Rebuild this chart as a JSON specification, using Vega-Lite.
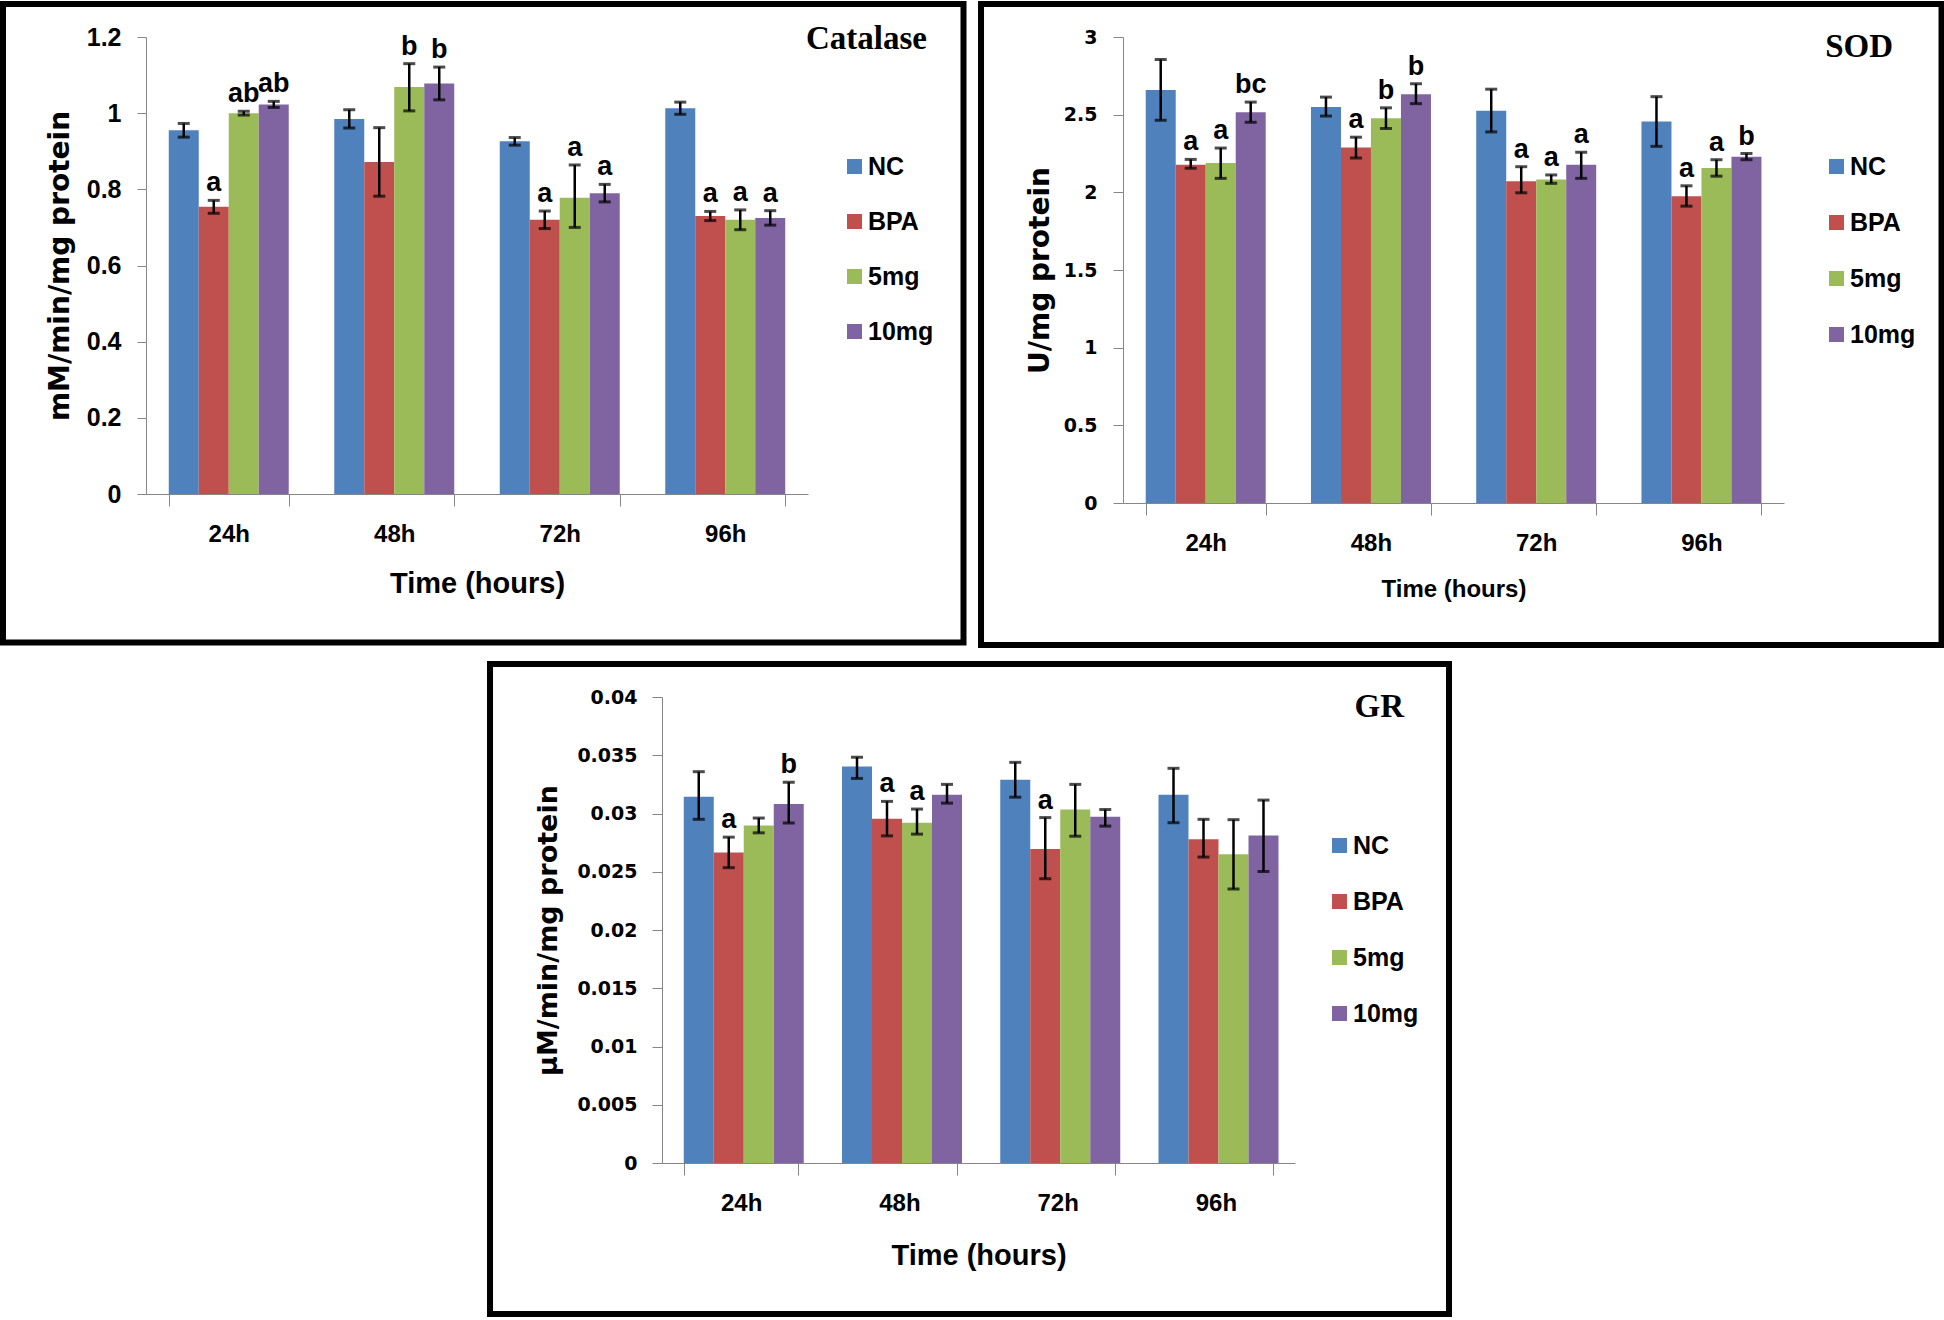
{
  "$schema": "https://vega.github.io/schema/vega-lite/v6.json",
  "padding": {"left": 0, "top": 1, "right": 0, "bottom": 0},
  "background": "white",
  "datasets": {
    "catalase": [
      {"time": "24h", "group": "NC", "value": 0.955, "lo": 0.937, "hi": 0.973, "sig": ""},
      {"time": "24h", "group": "BPA", "value": 0.754, "lo": 0.737, "hi": 0.771, "sig": "a"},
      {"time": "24h", "group": "5mg", "value": 1.0, "lo": 0.995, "hi": 1.005, "sig": "ab"},
      {"time": "24h", "group": "10mg", "value": 1.023, "lo": 1.015, "hi": 1.031, "sig": "ab"},
      {"time": "48h", "group": "NC", "value": 0.985, "lo": 0.961, "hi": 1.009, "sig": ""},
      {"time": "48h", "group": "BPA", "value": 0.872, "lo": 0.782, "hi": 0.962, "sig": ""},
      {"time": "48h", "group": "5mg", "value": 1.069, "lo": 1.006, "hi": 1.13, "sig": "b"},
      {"time": "48h", "group": "10mg", "value": 1.078, "lo": 1.035, "hi": 1.121, "sig": "b"},
      {"time": "72h", "group": "NC", "value": 0.926, "lo": 0.916, "hi": 0.936, "sig": ""},
      {"time": "72h", "group": "BPA", "value": 0.72, "lo": 0.697, "hi": 0.743, "sig": "a"},
      {"time": "72h", "group": "5mg", "value": 0.778, "lo": 0.7, "hi": 0.864, "sig": "a"},
      {"time": "72h", "group": "10mg", "value": 0.79, "lo": 0.767, "hi": 0.813, "sig": "a"},
      {"time": "96h", "group": "NC", "value": 1.013, "lo": 0.997, "hi": 1.029, "sig": ""},
      {"time": "96h", "group": "BPA", "value": 0.73, "lo": 0.718, "hi": 0.742, "sig": "a"},
      {"time": "96h", "group": "5mg", "value": 0.72, "lo": 0.694, "hi": 0.746, "sig": "a"},
      {"time": "96h", "group": "10mg", "value": 0.725, "lo": 0.706, "hi": 0.744, "sig": "a"}
    ],
    "sod": [
      {"time": "24h", "group": "NC", "value": 2.659, "lo": 2.464, "hi": 2.855, "sig": ""},
      {"time": "24h", "group": "BPA", "value": 2.178, "lo": 2.155, "hi": 2.212, "sig": "a"},
      {"time": "24h", "group": "5mg", "value": 2.189, "lo": 2.09, "hi": 2.285, "sig": "a"},
      {"time": "24h", "group": "10mg", "value": 2.515, "lo": 2.451, "hi": 2.581, "sig": "bc"},
      {"time": "48h", "group": "NC", "value": 2.549, "lo": 2.491, "hi": 2.613, "sig": ""},
      {"time": "48h", "group": "BPA", "value": 2.288, "lo": 2.221, "hi": 2.355, "sig": "a"},
      {"time": "48h", "group": "5mg", "value": 2.477, "lo": 2.411, "hi": 2.544, "sig": "b"},
      {"time": "48h", "group": "10mg", "value": 2.632, "lo": 2.571, "hi": 2.699, "sig": "b"},
      {"time": "72h", "group": "NC", "value": 2.525, "lo": 2.389, "hi": 2.664, "sig": ""},
      {"time": "72h", "group": "BPA", "value": 2.071, "lo": 1.997, "hi": 2.165, "sig": "a"},
      {"time": "72h", "group": "5mg", "value": 2.082, "lo": 2.058, "hi": 2.112, "sig": "a"},
      {"time": "72h", "group": "10mg", "value": 2.178, "lo": 2.09, "hi": 2.258, "sig": "a"},
      {"time": "96h", "group": "NC", "value": 2.456, "lo": 2.296, "hi": 2.616, "sig": ""},
      {"time": "96h", "group": "BPA", "value": 1.975, "lo": 1.911, "hi": 2.042, "sig": "a"},
      {"time": "96h", "group": "5mg", "value": 2.157, "lo": 2.104, "hi": 2.21, "sig": "a"},
      {"time": "96h", "group": "10mg", "value": 2.229, "lo": 2.21, "hi": 2.25, "sig": "b"}
    ],
    "gr": [
      {"time": "24h", "group": "NC", "value": 0.03144, "lo": 0.0295, "hi": 0.03359, "sig": ""},
      {"time": "24h", "group": "BPA", "value": 0.02666, "lo": 0.02535, "hi": 0.02797, "sig": "a"},
      {"time": "24h", "group": "5mg", "value": 0.02896, "lo": 0.02834, "hi": 0.02961, "sig": ""},
      {"time": "24h", "group": "10mg", "value": 0.03082, "lo": 0.02918, "hi": 0.03268, "sig": "b"},
      {"time": "48h", "group": "NC", "value": 0.03403, "lo": 0.03301, "hi": 0.03483, "sig": ""},
      {"time": "48h", "group": "BPA", "value": 0.02954, "lo": 0.02808, "hi": 0.03104, "sig": "a"},
      {"time": "48h", "group": "5mg", "value": 0.02921, "lo": 0.02823, "hi": 0.03038, "sig": "a"},
      {"time": "48h", "group": "10mg", "value": 0.03162, "lo": 0.03089, "hi": 0.0325, "sig": ""},
      {"time": "72h", "group": "NC", "value": 0.0329, "lo": 0.0314, "hi": 0.03439, "sig": ""},
      {"time": "72h", "group": "BPA", "value": 0.02695, "lo": 0.0244, "hi": 0.02965, "sig": "a"},
      {"time": "72h", "group": "5mg", "value": 0.03034, "lo": 0.02805, "hi": 0.0325, "sig": ""},
      {"time": "72h", "group": "10mg", "value": 0.02972, "lo": 0.02892, "hi": 0.03034, "sig": ""},
      {"time": "96h", "group": "NC", "value": 0.03162, "lo": 0.02921, "hi": 0.03388, "sig": ""},
      {"time": "96h", "group": "BPA", "value": 0.02779, "lo": 0.02626, "hi": 0.0295, "sig": ""},
      {"time": "96h", "group": "5mg", "value": 0.02651, "lo": 0.02352, "hi": 0.02947, "sig": ""},
      {"time": "96h", "group": "10mg", "value": 0.02812, "lo": 0.02502, "hi": 0.03115, "sig": ""}
    ]
  },
  "vconcat": [
    {
      "hconcat": [
        {
          "width": 662,
          "height": 457,
          "resolve": {"scale": {"x": "independent", "y": "independent"}},
          "layer": [
            {
              "data": {"name": "catalase"},
              "encoding": {
                "x": {"field": "time", "type": "nominal", "sort": ["24h", "48h", "72h", "96h"],
                  "scale": {"paddingInner": 0.275, "paddingOuter": 0.1375},
                  "axis": {"title": "Time (hours)", "labelAngle": 0, "tickBand": "extent", "domainColor": "#868686", "tickColor": "#868686", "tickSize": 12, "labelPadding": 16, "labelFont": "Liberation Sans", "labelFontWeight": "bold", "labelFontSize": 24, "labelColor": "black", "titleFont": "Liberation Sans", "titleFontWeight": "bold", "titleFontSize": 29, "titleColor": "black", "titlePadding": 23}},
                "xOffset": {"field": "group", "type": "nominal", "sort": ["NC", "BPA", "5mg", "10mg"], "scale": {"paddingInner": 0, "paddingOuter": 0}}
              },
              "layer": [
                {
                  "mark": {"type": "bar"},
                  "encoding": {
                    "y": {"field": "value", "type": "quantitative", "scale": {"domain": [0, 1.2], "nice": false},
                      "axis": {"title": "mM/min/mg protein", "values": [0, 0.2, 0.4, 0.6, 0.8, 1, 1.2], "format": "~g", "grid": false, "domainColor": "#868686", "tickColor": "#868686", "tickSize": 9, "labelPadding": 16, "labelFont": "Liberation Sans", "labelFontWeight": "bold", "labelFontSize": 25, "labelColor": "black", "titleFont": "DejaVu Sans", "titleFontWeight": "bold", "titleFontSize": 28, "titleColor": "black", "titlePadding": 12}},
                    "color": {"field": "group", "type": "nominal", "sort": ["NC", "BPA", "5mg", "10mg"],
                      "scale": {"domain": ["NC", "BPA", "5mg", "10mg"], "range": ["#4F81BD", "#C0504D", "#9BBB59", "#8064A2"]},
                      "legend": {"orient": "none", "legendX": 696, "legendY": 117, "title": null, "symbolType": "square", "symbolSize": 225, "symbolStrokeWidth": 0, "labelFont": "Liberation Sans", "labelFontWeight": "bold", "labelFontSize": 25, "labelColor": "black", "rowPadding": 29, "padding": 0, "labelOffset": 1}}
                  }
                },
                {"mark": {"type": "rule", "color": "black", "strokeWidth": 2.5}, "encoding": {"y": {"field": "lo", "type": "quantitative"}, "y2": {"field": "hi"}}},
                {"mark": {"type": "tick", "color": "black", "thickness": 3, "size": 12}, "encoding": {"y": {"field": "lo", "type": "quantitative"}}},
                {"mark": {"type": "tick", "color": "black", "thickness": 3, "size": 12}, "encoding": {"y": {"field": "hi", "type": "quantitative"}}},
                {"mark": {"type": "text", "font": "Liberation Sans", "fontWeight": "bold", "fontSize": 27, "baseline": "bottom", "dy": -3, "color": "black"}, "encoding": {"y": {"field": "hi", "type": "quantitative"}, "text": {"field": "sig"}}}
              ]
            },
            {
              "data": {"values": [{"panel": "Catalase"}]},
              "layer": [
                {"mark": {"type": "rect", "fill": "transparent", "stroke": "black", "strokeWidth": 6},
                  "encoding": {
                    "x": {"datum": -0.216, "type": "quantitative", "scale": {"domain": [0, 1], "nice": false, "zero": false}, "axis": null},
                    "x2": {"datum": 1.2349},
                    "y": {"datum": -0.3249, "type": "quantitative", "scale": {"domain": [0, 1], "nice": false, "zero": false}, "axis": null},
                    "y2": {"datum": 1.0722}
                  }},
                {"mark": {"type": "text", "font": "Liberation Serif", "fontWeight": "bold", "fontSize": 33, "align": "right", "baseline": "middle", "color": "black"},
                  "encoding": {
                    "x": {"datum": 1.1798, "type": "quantitative"},
                    "y": {"datum": 0.9956, "type": "quantitative"},
                    "text": {"field": "panel"}
                  }}
              ]
            }
          ]
        },
        {
          "width": 661,
          "height": 466,
          "resolve": {"scale": {"x": "independent", "y": "independent"}},
          "layer": [
            {
              "data": {"name": "sod"},
              "encoding": {
                "x": {"field": "time", "type": "nominal", "sort": ["24h", "48h", "72h", "96h"],
                  "scale": {"paddingInner": 0.275, "paddingOuter": 0.1375},
                  "axis": {"title": "Time (hours)", "labelAngle": 0, "tickBand": "extent", "domainColor": "#868686", "tickColor": "#868686", "tickSize": 12, "labelPadding": 16, "labelFont": "Liberation Sans", "labelFontWeight": "bold", "labelFontSize": 24, "labelColor": "black", "titleFont": "Liberation Sans", "titleFontWeight": "bold", "titleFontSize": 24, "titleColor": "black", "titlePadding": 22}},
                "xOffset": {"field": "group", "type": "nominal", "sort": ["NC", "BPA", "5mg", "10mg"], "scale": {"paddingInner": 0, "paddingOuter": 0}}
              },
              "layer": [
                {
                  "mark": {"type": "bar"},
                  "encoding": {
                    "y": {"field": "value", "type": "quantitative", "scale": {"domain": [0, 3], "nice": false},
                      "axis": {"title": "U/mg protein", "values": [0, 0.5, 1, 1.5, 2, 2.5, 3], "format": "~g", "grid": false, "domainColor": "#868686", "tickColor": "#868686", "tickSize": 10, "labelPadding": 16, "labelFont": "DejaVu Sans", "labelFontWeight": "bold", "labelFontSize": 19, "labelColor": "black", "titleFont": "DejaVu Sans", "titleFontWeight": "bold", "titleFontSize": 28, "titleColor": "black", "titlePadding": 9}},
                    "color": {"field": "group", "type": "nominal", "sort": ["NC", "BPA", "5mg", "10mg"],
                      "scale": {"domain": ["NC", "BPA", "5mg", "10mg"], "range": ["#4F81BD", "#C0504D", "#9BBB59", "#8064A2"]},
                      "legend": {"orient": "none", "legendX": 701, "legendY": 117, "title": null, "symbolType": "square", "symbolSize": 225, "symbolStrokeWidth": 0, "labelFont": "Liberation Sans", "labelFontWeight": "bold", "labelFontSize": 25, "labelColor": "black", "rowPadding": 30, "padding": 0, "labelOffset": 1}}
                  }
                },
                {"mark": {"type": "rule", "color": "black", "strokeWidth": 2.5}, "encoding": {"y": {"field": "lo", "type": "quantitative"}, "y2": {"field": "hi"}}},
                {"mark": {"type": "tick", "color": "black", "thickness": 3, "size": 12}, "encoding": {"y": {"field": "lo", "type": "quantitative"}}},
                {"mark": {"type": "tick", "color": "black", "thickness": 3, "size": 12}, "encoding": {"y": {"field": "hi", "type": "quantitative"}}},
                {"mark": {"type": "text", "font": "Liberation Sans", "fontWeight": "bold", "fontSize": 27, "baseline": "bottom", "dy": -3, "color": "black"}, "encoding": {"y": {"field": "hi", "type": "quantitative"}, "text": {"field": "sig"}}}
              ]
            },
            {
              "data": {"values": [{"panel": "SOD"}]},
              "layer": [
                {"mark": {"type": "rect", "fill": "transparent", "stroke": "black", "strokeWidth": 6},
                  "encoding": {
                    "x": {"datum": -0.2148, "type": "quantitative", "scale": {"domain": [0, 1], "nice": false, "zero": false}, "axis": null},
                    "x2": {"datum": 1.2383},
                    "y": {"datum": -0.3047, "type": "quantitative", "scale": {"domain": [0, 1], "nice": false, "zero": false}, "axis": null},
                    "y2": {"datum": 1.0708}
                  }},
                {"mark": {"type": "text", "font": "Liberation Serif", "fontWeight": "bold", "fontSize": 33, "align": "right", "baseline": "middle", "color": "black"},
                  "encoding": {
                    "x": {"datum": 1.1649, "type": "quantitative"},
                    "y": {"datum": 0.9785, "type": "quantitative"},
                    "text": {"field": "panel"}
                  }}
              ]
            }
          ]
        }
      ],
      "spacing": 11,
      "resolve": {"scale": {"color": "independent"}, "legend": {"color": "independent"}}
    },
    {
      "hconcat": [
        {
          "width": 330,
          "height": 20,
          "data": {"values": []},
          "mark": {"type": "point", "opacity": 0},
          "encoding": {}
        },
        {
          "width": 633,
          "height": 466,
          "resolve": {"scale": {"x": "independent", "y": "independent"}},
          "layer": [
            {
              "data": {"name": "gr"},
              "encoding": {
                "x": {"field": "time", "type": "nominal", "sort": ["24h", "48h", "72h", "96h"],
                  "scale": {"paddingInner": 0.275, "paddingOuter": 0.1375},
                  "axis": {"title": "Time (hours)", "labelAngle": 0, "tickBand": "extent", "domainColor": "#868686", "tickColor": "#868686", "tickSize": 12, "labelPadding": 16, "labelFont": "Liberation Sans", "labelFontWeight": "bold", "labelFontSize": 24, "labelColor": "black", "titleFont": "Liberation Sans", "titleFontWeight": "bold", "titleFontSize": 29, "titleColor": "black", "titlePadding": 26}},
                "xOffset": {"field": "group", "type": "nominal", "sort": ["NC", "BPA", "5mg", "10mg"], "scale": {"paddingInner": 0, "paddingOuter": 0}}
              },
              "layer": [
                {
                  "mark": {"type": "bar"},
                  "encoding": {
                    "y": {"field": "value", "type": "quantitative", "scale": {"domain": [0, 0.04], "nice": false},
                      "axis": {"title": "μM/min/mg protein", "values": [0, 0.005, 0.01, 0.015, 0.02, 0.025, 0.03, 0.035, 0.04], "format": "~g", "grid": false, "domainColor": "#868686", "tickColor": "#868686", "tickSize": 10, "labelPadding": 15, "labelFont": "DejaVu Sans", "labelFontWeight": "bold", "labelFontSize": 19, "labelColor": "black", "titleFont": "DejaVu Sans", "titleFontWeight": "bold", "titleFontSize": 27, "titleColor": "black", "titlePadding": 14}},
                    "color": {"field": "group", "type": "nominal", "sort": ["NC", "BPA", "5mg", "10mg"],
                      "scale": {"domain": ["NC", "BPA", "5mg", "10mg"], "range": ["#4F81BD", "#C0504D", "#9BBB59", "#8064A2"]},
                      "legend": {"orient": "none", "legendX": 665, "legendY": 136, "title": null, "symbolType": "square", "symbolSize": 225, "symbolStrokeWidth": 0, "labelFont": "Liberation Sans", "labelFontWeight": "bold", "labelFontSize": 25, "labelColor": "black", "rowPadding": 30, "padding": 0, "labelOffset": 1}}
                  }
                },
                {"mark": {"type": "rule", "color": "black", "strokeWidth": 2.5}, "encoding": {"y": {"field": "lo", "type": "quantitative"}, "y2": {"field": "hi"}}},
                {"mark": {"type": "tick", "color": "black", "thickness": 3, "size": 12}, "encoding": {"y": {"field": "lo", "type": "quantitative"}}},
                {"mark": {"type": "tick", "color": "black", "thickness": 3, "size": 12}, "encoding": {"y": {"field": "hi", "type": "quantitative"}}},
                {"mark": {"type": "text", "font": "Liberation Sans", "fontWeight": "bold", "fontSize": 27, "baseline": "bottom", "dy": -3, "color": "black"}, "encoding": {"y": {"field": "hi", "type": "quantitative"}, "text": {"field": "sig"}}}
              ]
            },
            {
              "data": {"values": [{"panel": "GR"}]},
              "layer": [
                {"mark": {"type": "rect", "fill": "transparent", "stroke": "black", "strokeWidth": 6},
                  "encoding": {
                    "x": {"datum": -0.2717, "type": "quantitative", "scale": {"domain": [0, 1], "nice": false, "zero": false}, "axis": null},
                    "x2": {"datum": 1.2433},
                    "y": {"datum": -0.324, "type": "quantitative", "scale": {"domain": [0, 1], "nice": false, "zero": false}, "axis": null},
                    "y2": {"datum": 1.0708}
                  }},
                {"mark": {"type": "text", "font": "Liberation Serif", "fontWeight": "bold", "fontSize": 33, "align": "right", "baseline": "middle", "color": "black"},
                  "encoding": {
                    "x": {"datum": 1.1722, "type": "quantitative"},
                    "y": {"datum": 0.9785, "type": "quantitative"},
                    "text": {"field": "panel"}
                  }}
              ]
            }
          ]
        }
      ],
      "spacing": 11,
      "resolve": {"scale": {"color": "independent"}, "legend": {"color": "independent"}}
    }
  ],
  "spacing": 13,
  "resolve": {"scale": {"color": "independent"}, "legend": {"color": "independent"}},
  "config": {
    "view": {"stroke": null},
    "font": "Liberation Sans"
  }
}
